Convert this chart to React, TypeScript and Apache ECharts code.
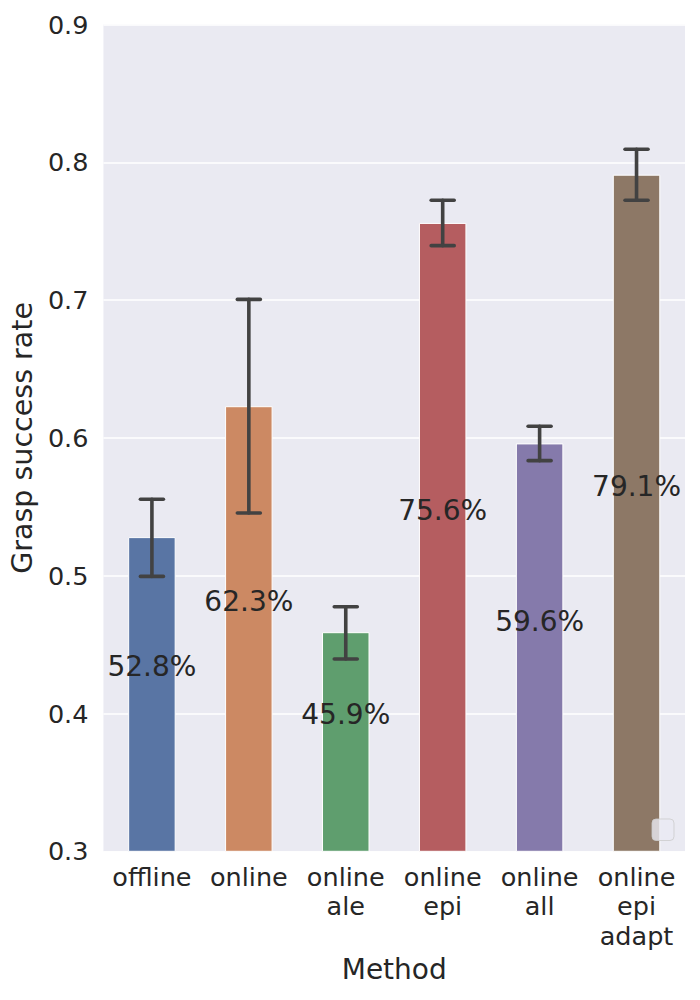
import React, { useEffect, useRef } from "react";
import * as echarts from "echarts";

const categories = ["offline", "online", "online\nale", "online\nepi", "online\nall", "online\nepi\nadapt"];
const successRate = [0.528, 0.623, 0.459, 0.756, 0.596, 0.791];
const errLow = [0.4995, 0.5455, 0.4395, 0.7395, 0.5835, 0.7725];
const errHigh = [0.5555, 0.7005, 0.4775, 0.7725, 0.6085, 0.8095];
const labelY = [0.434, 0.481, 0.399, 0.547, 0.467, 0.565];
const barColors = ["#5975a4", "#cc8963", "#5f9e6e", "#b55d60", "#857aab", "#8d7866"];
const yTicks = { min: 0.3, max: 0.9, interval: 0.1 };

const FONT = "DejaVu Sans";
const TEXT = "#262626";

export default function App() {
  const ref = useRef<HTMLDivElement>(null);
  useEffect(() => {
    document.body.style.margin = "0";
    const chart = echarts.init(ref.current!, null, { renderer: "svg" });
    const option: any = {
      animation: false,
      backgroundColor: "#ffffff",
      textStyle: { fontFamily: FONT, color: TEXT },
      grid: {
        left: 103,
        right: 15,
        top: 24.5,
        bottom: 148.7,
        show: true,
        backgroundColor: "#EAEAF2",
        borderWidth: 0,
      },
      xAxis: {
        type: "category",
        data: categories,
        name: "Method",
        nameLocation: "middle",
        nameGap: 104,
        nameTextStyle: { fontFamily: FONT, fontSize: 28, color: TEXT },
        axisLine: { show: false },
        axisTick: { show: false },
        splitLine: { show: false },
        axisLabel: {
          fontFamily: FONT,
          fontSize: 25.5,
          lineHeight: 29.5,
          color: TEXT,
          margin: 10.5,
          interval: 0,
        },
      },
      yAxis: {
        type: "value",
        min: yTicks.min,
        max: yTicks.max,
        interval: yTicks.interval,
        name: "Grasp success rate",
        nameLocation: "middle",
        nameGap: 63,
        nameTextStyle: { fontFamily: FONT, fontSize: 28.5, color: TEXT },
        axisLine: { show: false },
        axisTick: { show: false },
        splitLine: { show: true, lineStyle: { color: "#ffffff", width: 1.5 } },
        axisLabel: {
          fontFamily: FONT,
          fontSize: 25.5,
          color: TEXT,
          margin: 15,
          formatter: (v: number) => v.toFixed(1),
        },
      },
      series: [
        {
          type: "bar",
          barWidth: "49%",
          data: successRate.map((v, i) => ({
            value: v,
            itemStyle: { color: barColors[i], borderColor: "#ffffff", borderWidth: 1 },
          })),
          z: 2,
        },
        {
          type: "custom",
          z: 5,
          data: categories.map((_, i) => [i, errLow[i], errHigh[i]]),
          renderItem: (params: any, api: any) => {
            const x = api.value(0);
            const lo = api.coord([x, api.value(1)]);
            const hi = api.coord([x, api.value(2)]);
            const half = 11.5;
            const style = { stroke: "#424242", lineWidth: 3.6, lineCap: "round" };
            return {
              type: "group",
              children: [
                { type: "line", shape: { x1: lo[0], y1: lo[1], x2: hi[0], y2: hi[1] }, style },
                { type: "line", shape: { x1: lo[0] - half, y1: lo[1], x2: lo[0] + half, y2: lo[1] }, style },
                { type: "line", shape: { x1: hi[0] - half, y1: hi[1], x2: hi[0] + half, y2: hi[1] }, style },
              ],
            };
          },
        },
        {
          type: "custom",
          z: 6,
          data: categories.map((_, i) => [i, labelY[i], successRate[i]]),
          renderItem: (params: any, api: any) => {
            const p = api.coord([api.value(0), api.value(1)]);
            return {
              type: "text",
              x: p[0],
              y: p[1],
              style: {
                text: (api.value(2) * 100).toFixed(1) + "%",
                fill: TEXT,
                font: `28px "${FONT}"`,
                align: "center",
                verticalAlign: "middle",
              },
            };
          },
        },
      ],
      graphic: [
        {
          type: "rect",
          shape: { x: 652, y: 819, width: 22, height: 21.5, r: 4 },
          style: { fill: "rgba(234,234,242,0.8)", stroke: "rgba(204,204,204,0.8)", lineWidth: 1 },
          z: 10,
        },
      ],
    };
    chart.setOption(option);
    return () => chart.dispose();
  }, []);
  return <div ref={ref} style={{ width: 700, height: 1000 }} />;
}
